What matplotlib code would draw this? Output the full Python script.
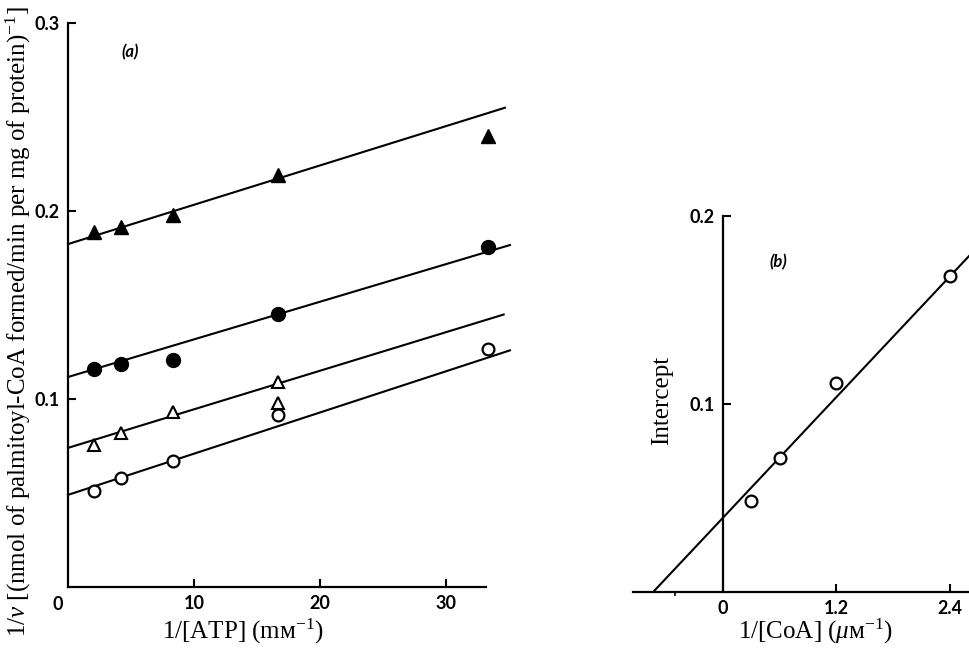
import matplotlib
matplotlib.use('Agg')
import matplotlib.pyplot as plt
import numpy as np

# panel (a): 1/v against 1/[ATP] at four CoA concentrations
atp_inv = [2.08, 4.17, 8.33, 16.67, 33.33]
filled_tri = [0.189, 0.1915, 0.198, 0.219, 0.240]
filled_circ = [0.116, 0.1186, 0.121, 0.145, 0.181]
open_tri_x = [2.08, 4.17, 8.33, 16.67, 16.67]
open_tri = [0.0755, 0.082, 0.093, 0.109, 0.098]
open_circ = [0.051, 0.058, 0.067, 0.0915, 0.1266]

# fitted lines in (a): intercept, slope, x end
fit_icpt = [0.1824, 0.1117, 0.074, 0.049]
fit_slope = [0.00209, 0.00200, 0.00205, 0.00219]
fit_xend = [34.7, 35.1, 34.6, 35.1]

# panel (b): intercepts against 1/[CoA]
coa_inv = [0.3, 0.6, 1.2, 2.4]
icpt_vals = [0.0484, 0.0713, 0.111, 0.168]
b_fit_icpt = 0.0394
b_fit_slope = 0.0536
b_fit_x = [-0.73, 2.65]

plt.rcParams['mathtext.fontset'] = 'custom'
plt.rcParams['mathtext.rm'] = 'Liberation Serif'
plt.rcParams['mathtext.it'] = 'Liberation Serif:italic'

W, H = 970, 648
fig = plt.figure(figsize=(9.7, 6.48), dpi=100)

tick_font = dict(family='Lato', weight='bold', size=13)
serif = ['Liberation Serif', 'DejaVu Serif']


def style_ticks(a):
    for lab in a.get_xticklabels() + a.get_yticklabels():
        lab.set_fontfamily('Lato')
        lab.set_fontweight('bold')
        lab.set_fontsize(13)


# ---- panel (a)
ax = fig.add_axes([68 / W, 61 / H, 447 / W, 564 / H])
ax.set_xlim(0, 35.5)
ax.set_ylim(0, 0.3)
for s in ['top', 'right']:
    ax.spines[s].set_visible(False)
ax.spines['bottom'].set_bounds(0, 33.2)
for s in ['left', 'bottom']:
    ax.spines[s].set_linewidth(1.6)

for b, m, xe in zip(fit_icpt, fit_slope, fit_xend):
    xs = np.array([0, xe])
    ax.plot(xs, b + m * xs, color='black', lw=1.5, clip_on=False)

ax.plot(atp_inv, filled_tri, '^', color='black', ms=10, clip_on=False)
ax.plot(atp_inv, filled_circ, 'o', color='black', ms=10, clip_on=False)
ax.plot(open_tri_x, open_tri, '^', mfc='white', mec='black', mew=1.5, ms=9, clip_on=False)
ax.plot(atp_inv, open_circ, 'o', mfc='white', mec='black', mew=1.6, ms=8.5, clip_on=False)

ax.set_xticks([10, 20, 30])
ax.set_yticks([0.1, 0.2, 0.3])
ax.set_yticklabels(['0.1', '0.2', '0.3'])
ax.tick_params(direction='in', length=6, width=1.5, pad=6)
style_ticks(ax)
fig.text(58 / W, 1 - 604 / H, '0', ha='center', va='center', **tick_font)
fig.text(130 / W, 1 - 52 / H, '(a)', ha='center', va='center',
         family='Lato', weight='bold', style='italic', size=12)

fig.text(18 / W, 1 - 322 / H,
         r'1/$\mathit{v}$ [(nmol of palmitoyl-CoA formed/min per mg of protein)$^{-1}$]',
         rotation=90, ha='center', va='center', family=serif, size=18)
fig.text(243 / W, 1 - 631 / H, '1/[ATP] (mᴍ$^{-1}$)', ha='center', va='center',
         family=serif, size=18)

# ---- panel (b)
bx = fig.add_axes([629 / W, 56 / H, 342 / W, 376 / H])
bx.set_xlim(-0.99, 2.62)
bx.set_ylim(0, 0.2)
for s in ['top', 'right']:
    bx.spines[s].set_visible(False)
bx.spines['left'].set_position(('data', 0))
bx.spines['bottom'].set_bounds(-0.95, 2.62)
for s in ['left', 'bottom']:
    bx.spines[s].set_linewidth(1.6)

xs = np.array(b_fit_x)
bx.plot(xs, b_fit_icpt + b_fit_slope * xs, color='black', lw=1.5)
bx.plot(coa_inv, icpt_vals, 'o', mfc='white', mec='black', mew=1.6, ms=8.5, clip_on=False)

bx.set_xticks([0, 1.2, 2.4])
bx.set_xticklabels(['0', '1.2', '2.4'])
bx.set_xticks([-0.5], minor=True)
bx.set_yticks([0.1, 0.2])
bx.set_yticklabels(['0.1', '0.2'])
bx.tick_params(direction='in', length=6, width=1.5, pad=6)
bx.tick_params(axis='x', which='minor', direction='out', length=3, width=1.2)
style_ticks(bx)
fig.text(778 / W, 1 - 262 / H, '(b)', ha='center', va='center',
         family='Lato', weight='bold', style='italic', size=12)

fig.text(662 / W, 1 - 400 / H, 'Intercept', rotation=90, ha='center', va='center',
         family=serif, size=18)
fig.text(815 / W, 1 - 631 / H, r'1/[CoA] ($\mathit{\mu}$ᴍ$^{-1}$)', ha='center', va='center',
         family=serif, size=18)

fig.savefig('out.png', dpi=100)
